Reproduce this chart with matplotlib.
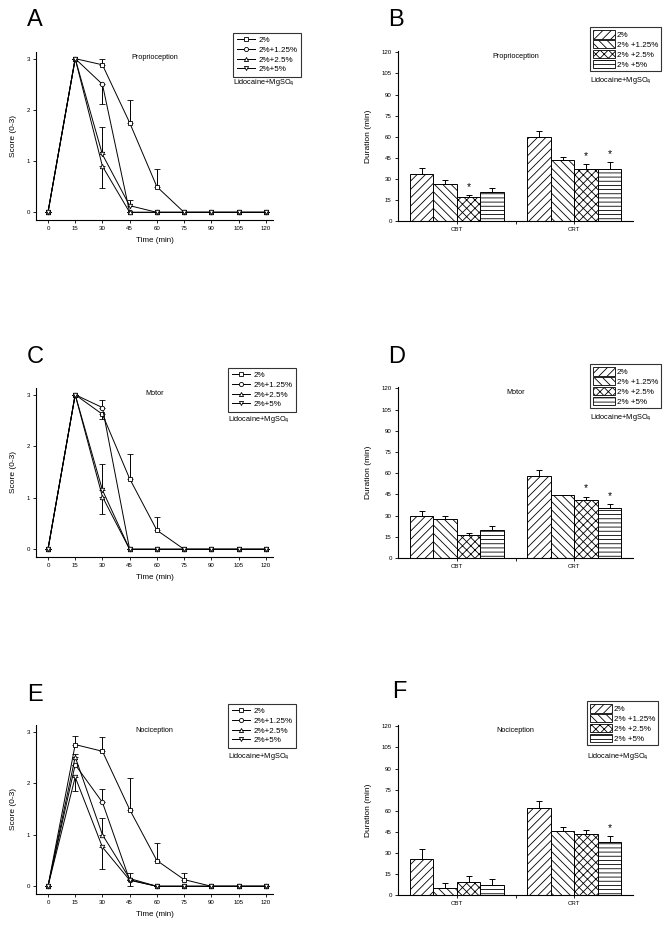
import matplotlib
matplotlib.use("Agg")
import matplotlib.pyplot as plt
from matplotlib.lines import Line2D
from matplotlib.patches import Patch
import numpy as np

plt.rcParams['font.family'] = ['Liberation Sans', 'DejaVu Sans']
plt.rcParams['hatch.linewidth'] = 0.6

W, H = 669, 925

# time course (min)
times = [0, 15, 30, 45, 60, 75, 90, 105, 120]
groups = ["2%", "2%+1.25%", "2%+2.5%", "2%+5%"]
bar_groups = ["2%", "2% +1.25%", "2% +2.5%", "2% +5%"]
markers = ["s", "o", "^", "v"]

# Proprioception scores (0-3)
prop_mean = [
    [0, 3, 2.88, 1.75, 0.5, 0, 0, 0, 0],
    [0, 3, 2.5, 0, 0, 0, 0, 0, 0],
    [0, 3, 0.9, 0, 0, 0, 0, 0, 0],
    [0, 3, 1.13, 0.13, 0, 0, 0, 0, 0],
]
prop_err_up = [
    [0, 0, 0.11, 0.45, 0.34, 0, 0, 0, 0],
    [0, 0, 0, 0, 0, 0, 0, 0, 0],
    [0, 0, 0, 0, 0, 0, 0, 0, 0],
    [0, 0, 0.54, 0.12, 0, 0, 0, 0, 0],
]
prop_err_dn = [
    [0, 0, 0, 0, 0, 0, 0, 0, 0],
    [0, 0, 0.38, 0, 0, 0, 0, 0, 0],
    [0, 0, 0.43, 0, 0, 0, 0, 0, 0],
    [0, 0, 0, 0, 0, 0, 0, 0, 0],
]

# Motor scores (0-3)
motor_mean = [
    [0, 3, 2.62, 1.37, 0.37, 0, 0, 0, 0],
    [0, 3, 2.75, 0, 0, 0, 0, 0, 0],
    [0, 3, 1.02, 0, 0, 0, 0, 0, 0],
    [0, 3, 1.15, 0, 0, 0, 0, 0, 0],
]
motor_err_up = [
    [0, 0, 0, 0.47, 0.26, 0, 0, 0, 0],
    [0, 0, 0.15, 0, 0, 0, 0, 0, 0],
    [0, 0, 0, 0, 0, 0, 0, 0, 0],
    [0, 0, 0.51, 0, 0, 0, 0, 0, 0],
]
motor_err_dn = [
    [0, 0, 0.1, 0, 0, 0, 0, 0, 0],
    [0, 0, 0, 0, 0, 0, 0, 0, 0],
    [0, 0, 0.34, 0, 0, 0, 0, 0, 0],
    [0, 0, 0, 0, 0, 0, 0, 0, 0],
]

# Nociception scores (0-3)
noci_mean = [
    [0, 2.75, 2.62, 1.49, 0.5, 0.13, 0, 0, 0],
    [0, 2.36, 1.63, 0.12, 0, 0, 0, 0, 0],
    [0, 2.51, 1.0, 0.15, 0, 0, 0, 0, 0],
    [0, 2.12, 0.76, 0.12, 0, 0, 0, 0, 0],
]
noci_err_up = [
    [0, 0.17, 0.28, 0.62, 0.34, 0.12, 0, 0, 0],
    [0, 0, 0.26, 0, 0, 0, 0, 0, 0],
    [0, 0.06, 0.32, 0.1, 0, 0, 0, 0, 0],
    [0, 0, 0, 0, 0, 0, 0, 0, 0],
]
noci_err_dn = [
    [0, 0, 0, 0, 0, 0, 0, 0, 0],
    [0, 0, 0, 0, 0, 0, 0, 0, 0],
    [0, 0, 0, 0, 0, 0, 0, 0, 0],
    [0, 0.28, 0.42, 0.12, 0, 0, 0, 0, 0],
]

# durations (min): rows = groups, cols = CBT, CRT
categories = ["CBT", "CRT"]
prop_dur = [[33.7, 60.0], [26.0, 43.2], [17.0, 37.2], [20.4, 37.2]]
prop_dur_err = [[3.8, 4.3], [3.0, 2.1], [1.3, 3.1], [2.8, 4.5]]
prop_star = [[False, False], [False, False], [True, True], [False, True]]

motor_dur = [[29.5, 57.9], [27.9, 44.9], [16.5, 40.8], [20.0, 35.3]]
motor_dur_err = [[4.0, 4.2], [1.7, 0.0], [1.5, 2.5], [2.8, 2.8]]
motor_star = [[False, False], [False, False], [False, True], [False, True]]

noci_dur = [[25.8, 62.0], [5.2, 45.2], [9.2, 43.1], [7.3, 37.4]]
noci_dur_err = [[6.6, 5.2], [3.1, 3.1], [4.3, 3.5], [3.8, 4.3]]
noci_star = [[False, False], [False, False], [False, False], [False, True]]

hatches = ["////", "\\\\\\\\", "xxxx", "----"]

fig = plt.figure(figsize=(W / 100, H / 100), dpi=100)


def px_axes(x0, x1, ytop, ybot):
    return fig.add_axes([x0 / W, 1 - ybot / H, (x1 - x0) / W, (ybot - ytop) / H])


def style(ax):
    for s in ["top", "right"]:
        ax.spines[s].set_visible(False)
    for s in ["left", "bottom"]:
        ax.spines[s].set_linewidth(0.8)
    ax.tick_params(labelsize=4.4, length=2.5, width=0.6, direction="out", pad=2)


def line_panel(ax, mean, up, dn, title):
    style(ax)
    for i in range(4):
        ax.errorbar(times, mean[i], yerr=[dn[i], up[i]], color="black", lw=0.7,
                    marker=markers[i], ms=3.2, mfc="white", mec="black", mew=0.6,
                    elinewidth=0.7, capsize=2, capthick=0.7)
    ax.set_xlim(-6.6, 124)
    ax.set_ylim(-0.15, 3.13)
    ax.set_xticks(times)
    ax.set_yticks([0, 1, 2, 3])
    ax.set_xlabel("Time (min)", fontsize=5.8, labelpad=4)
    ax.set_ylabel("Score (0-3)", fontsize=6, labelpad=7)
    ax.text(0.5, 0.99, title, transform=ax.transAxes, ha="center", va="top", fontsize=5.2)


def bar_panel(ax, dur, err, star, title):
    style(ax)
    x = np.arange(len(categories))
    w = 0.2
    for i in range(4):
        pos = x + (i - 1.5) * w
        ax.bar(pos, dur[i], width=w, color="white", edgecolor="black", lw=0.7, hatch=hatches[i])
        ax.errorbar(pos, dur[i], yerr=[[0, 0], err[i]], fmt="none", ecolor="black",
                    elinewidth=0.7, capsize=2, capthick=0.7)
        for j in range(len(categories)):
            if star[i][j]:
                ax.text(pos[j], dur[i][j] + err[i][j] + 2.5, "*", ha="center", va="bottom", fontsize=7.5)
    ax.set_xlim(-0.5, 1.5)
    ax.set_ylim(0, 121)
    ax.set_xticks(x)
    ax.set_xticklabels(categories)
    ax.set_xticks([0.5], minor=True)
    ax.tick_params(axis="x", which="minor", length=2.5, width=0.6)
    ax.set_yticks(np.arange(0, 121, 15))
    ax.set_ylabel("Duration (min)", fontsize=6, labelpad=7)
    ax.text(0.5, 0.99, title, transform=ax.transAxes, ha="center", va="top", fontsize=5.2)


def line_legend(ax, x0, y0, ytxt):
    handles = [Line2D([], [], color="black", lw=0.7, marker=m, ms=3, mfc="white", mew=0.6)
               for m in markers]
    leg = ax.legend(handles, groups, loc="upper left", bbox_to_anchor=(x0 / W, 1 - y0 / H),
                    bbox_transform=fig.transFigure, fontsize=5.8, frameon=True, fancybox=False,
                    edgecolor="black", handlelength=2.3, handletextpad=0.4, borderpad=0.45,
                    labelspacing=0.25, borderaxespad=0)
    leg.get_frame().set_linewidth(0.8)
    fig.text(x0 / W, 1 - ytxt / H, "Lidocaine+MgSO$_4$", fontsize=5.3, va="center", ha="left")


def bar_legend(ax, x0, y0, ytxt):
    handles = [Patch(facecolor="white", edgecolor="black", hatch=h, lw=0.6) for h in hatches]
    leg = ax.legend(handles, bar_groups, loc="upper left", bbox_to_anchor=(x0 / W, 1 - y0 / H),
                    bbox_transform=fig.transFigure, fontsize=5.8, frameon=True, fancybox=False,
                    edgecolor="black", handlelength=2.8, handleheight=1.3, handletextpad=0.2,
                    borderpad=0.35, labelspacing=0.1, borderaxespad=0)
    leg.get_frame().set_linewidth(0.8)
    fig.text(x0 / W, 1 - ytxt / H, "Lidocaine+MgSO$_4$", fontsize=5.3, va="center", ha="left")


# row 1
axA = px_axes(36, 273, 52, 220)
line_panel(axA, prop_mean, prop_err_up, prop_err_dn, "Proprioception")
line_legend(axA, 233, 33, 83)
axB = px_axes(398, 633, 51, 221)
bar_panel(axB, prop_dur, prop_dur_err, prop_star, "Proprioception")
bar_legend(axB, 590, 27, 81)

# row 2
axC = px_axes(36, 273, 388, 557)
line_panel(axC, motor_mean, motor_err_up, motor_err_dn, "Motor")
line_legend(axC, 228, 368, 419)
axD = px_axes(398, 633, 387, 558)
bar_panel(axD, motor_dur, motor_dur_err, motor_star, "Motor")
bar_legend(axD, 590, 364, 417)

# row 3
axE = px_axes(36, 273, 725, 894)
line_panel(axE, noci_mean, noci_err_up, noci_err_dn, "Nociception")
line_legend(axE, 228, 704, 757)
axF = px_axes(398, 633, 725, 895)
bar_panel(axF, noci_dur, noci_dur_err, noci_star, "Nociception")
bar_legend(axF, 587, 701, 757)

# panel letters
for lab, x, y in [("A", 27, 20), ("B", 388, 20), ("C", 27, 357), ("D", 388, 357),
                  ("E", 27, 695), ("F", 392, 692)]:
    fig.text(x / W, 1 - y / H, lab, fontsize=17, ha="left", va="center")

fig.savefig("out.png", dpi=100)
